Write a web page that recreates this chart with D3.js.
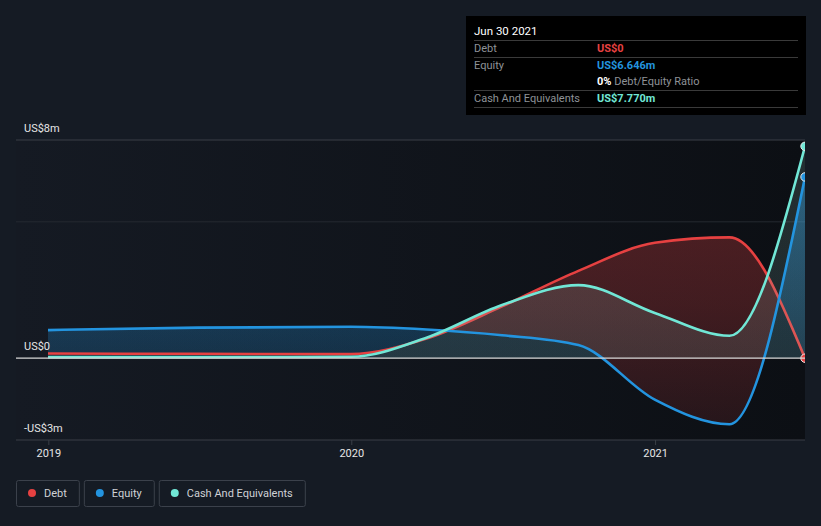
<!DOCTYPE html>
<html>
<head>
<meta charset="utf-8">
<script src="https://cdn.jsdelivr.net/npm/d3@7"></script>
<style>
  html, body { margin: 0; padding: 0; background: #151b24; }
  svg { display: block; }
  text { font-family: Roboto, "Noto Sans", sans-serif; }
</style>
</head>
<body>
<svg id="chart" width="821" height="526"></svg>
<script>
// ---- data (US$ millions) ----
const dates = ["2018-12-31","2019-06-30","2019-12-31","2020-03-31","2020-06-30","2020-09-30","2020-12-31","2021-03-31","2021-06-30"];
const debt = [0.17, 0.16, 0.15, 0.72, 1.90, 3.20, 4.23, 4.43, 0];
const equity = [1.03, 1.12, 1.15, 1.05, 0.84, 0.48, -1.52, -2.42, 6.646];
const cash = [0.04, 0.04, 0.05, 0.75, 1.95, 2.68, 1.66, 0.82, 7.77];
const yTickValues = [8, 0, -3];
const yTickLabels = ["US$8m", "US$0", "-US$3m"];
const yGridValues = [8, 5];
const xTickDates = ["2019-01-01", "2020-01-01", "2021-01-01"];
const xTickLabels = ["2019", "2020", "2021"];
const seriesNames = ["Debt", "Equity", "Cash And Equivalents"];
const tooltipDate = "Jun 30 2021";
const tooltipRows = [
  {label: "Debt", value: "US$0"},
  {label: "Equity", value: "US$6.646m"},
  {label: "", value: "0%", extra: " Debt/Equity Ratio"},
  {label: "Cash And Equivalents", value: "US$7.770m"}
];

const colors = {debt: "#e64141", equity: "#2394df", cash: "#71e7d6"};

const parse = d3.utcParse("%Y-%m-%d");
const rows = dates.map((d, i) => ({date: parse(d), debt: debt[i], equity: equity[i], cash: cash[i]}));

const svg = d3.select("#chart");
const plot = {left: 16, right: 805, top: 140, bottom: 440};

const x = d3.scaleUtc().domain([parse("2018-12-31"), parse("2021-06-30")]).range([48, 805]);
const y = d3.scaleLinear().domain([-3, 8]).range([plot.bottom, plot.top]);

const defs = svg.append("defs");
const bg = defs.append("linearGradient").attr("id", "plotbg").attr("x1", 0).attr("x2", 1).attr("y1", 0).attr("y2", 0);
bg.append("stop").attr("offset", 0).attr("stop-color", "#151a23");
bg.append("stop").attr("offset", 1).attr("stop-color", "#0c0f14");

function vgrad(id, color, stops) {
  const g = defs.append("linearGradient").attr("id", id).attr("gradientUnits", "userSpaceOnUse")
    .attr("x1", 0).attr("x2", 0).attr("y1", plot.top).attr("y2", plot.bottom);
  stops.forEach(s => g.append("stop").attr("offset", s[0]).attr("stop-color", color).attr("stop-opacity", s[1]));
}
vgrad("gRed", colors.debt, [[0, 0.34], [0.55, 0.24], [1, 0.10]]);
vgrad("gBlue", colors.equity, [[0, 0.38], [0.72, 0.14], [1, 0.05]]);
vgrad("gBlueArea", colors.equity, [[0, 0.2], [0.72, 0.09], [1, 0.02]]);
vgrad("gCash", "#9fd8d0", [[0, 0.16], [0.72, 0.13], [1, 0.08]]);

defs.append("clipPath").attr("id", "clipPlot").append("rect")
  .attr("x", plot.left).attr("y", 0).attr("width", plot.right - plot.left).attr("height", plot.bottom);
defs.append("clipPath").attr("id", "clipPos").append("rect")
  .attr("x", plot.left).attr("y", 0).attr("width", plot.right - plot.left).attr("height", y(0));

const curve = d3.curveMonotoneX;
defs.append("clipPath").attr("id", "belowDebt").append("path")
  .attr("d", d3.area().curve(curve).x(d => x(d.date)).y0(plot.bottom).y1(d => y(d.debt))(rows));
defs.append("clipPath").attr("id", "aboveDebt").append("path")
  .attr("d", d3.area().curve(curve).x(d => x(d.date)).y0(plot.top - 10).y1(d => y(d.debt))(rows));

svg.append("rect").attr("x", plot.left).attr("y", plot.top).attr("width", plot.right - plot.left)
  .attr("height", plot.bottom - plot.top).attr("fill", "url(#plotbg)");

svg.append("g").selectAll("line").data(yGridValues).join("line")
  .attr("x1", plot.left).attr("x2", plot.right)
  .attr("y1", d => y(d)).attr("y2", d => y(d))
  .attr("stroke", (d, i) => i === 0 ? "#3a3f47" : "#252a31").attr("stroke-width", 1);

const chartG = svg.append("g").attr("clip-path", "url(#clipPlot)");

chartG.append("g").attr("clip-path", "url(#belowDebt)").append("path")
  .attr("d", d3.area().curve(curve).x(d => x(d.date)).y0(plot.top - 10).y1(d => y(d.equity))(rows))
  .attr("fill", "url(#gRed)");
chartG.append("g").attr("clip-path", "url(#aboveDebt)").append("path")
  .attr("d", d3.area().curve(curve).x(d => x(d.date)).y0(plot.bottom).y1(d => y(d.equity))(rows))
  .attr("fill", "url(#gBlue)");
chartG.append("g").attr("clip-path", "url(#clipPos)").append("path")
  .attr("d", d3.area().curve(curve).x(d => x(d.date)).y0(y(0)).y1(d => y(d.equity))(rows))
  .attr("fill", "url(#gBlueArea)");

svg.append("line").attr("x1", plot.left).attr("x2", plot.right).attr("y1", y(0)).attr("y2", y(0))
  .attr("stroke", "#d8d8d8").attr("stroke-width", 1.2);

const line = key => d3.line().curve(curve).x(d => x(d.date)).y(d => y(d[key]));
chartG.append("path").attr("d", line("debt")(rows)).attr("fill", "none")
  .attr("stroke", colors.debt).attr("stroke-width", 2.6);
chartG.append("path")
  .attr("d", d3.area().curve(curve).x(d => x(d.date)).y0(y(0)).y1(d => y(d.cash))(rows))
  .attr("fill", "url(#gCash)");
chartG.append("path").attr("d", line("equity")(rows)).attr("fill", "none")
  .attr("stroke", colors.equity).attr("stroke-width", 2.6);
chartG.append("path").attr("d", line("cash")(rows)).attr("fill", "none")
  .attr("stroke", colors.cash).attr("stroke-width", 2.6);

const last = rows[rows.length - 1];
[["debt", colors.debt], ["equity", colors.equity], ["cash", colors.cash]].forEach(([k, c]) => {
  chartG.append("circle").attr("cx", x(last.date)).attr("cy", y(last[k])).attr("r", 4.2)
    .attr("fill", c).attr("stroke", "#e8e8e8").attr("stroke-width", 1);
});

svg.append("line").attr("x1", plot.left).attr("x2", plot.right).attr("y1", plot.bottom).attr("y2", plot.bottom)
  .attr("stroke", "#3a3f47").attr("stroke-width", 1);

svg.append("g").selectAll("text").data(yTickValues).join("text")
  .attr("x", 24).attr("y", d => y(d) - 8)
  .attr("fill", "#e6e6e6").attr("font-size", 11)
  .text((d, i) => yTickLabels[i]);

const xt = svg.append("g");
xTickDates.forEach((d, i) => {
  const px = x(parse(d));
  xt.append("line").attr("x1", px).attr("x2", px).attr("y1", plot.bottom).attr("y2", plot.bottom + 5)
    .attr("stroke", "#3a3f47");
  xt.append("text").attr("x", px).attr("y", 457).attr("text-anchor", "middle")
    .attr("fill", "#e6e6e6").attr("font-size", 11).text(xTickLabels[i]);
});

const legendColors = [colors.debt, colors.equity, colors.cash];
let lx = 16;
const lg = svg.append("g");
seriesNames.forEach((n, i) => {
  const g = lg.append("g");
  const t = g.append("text").attr("x", lx + 28).attr("y", 497).attr("fill", "#cfd2d6")
    .attr("font-size", 11).text(n);
  const w = t.node().getComputedTextLength() + 28 + 12;
  g.insert("rect", "text").attr("x", lx + 0.5).attr("y", 480.5).attr("width", w).attr("height", 26)
    .attr("rx", 2).attr("fill", "none").attr("stroke", "#3b414b");
  g.append("circle").attr("cx", lx + 16).attr("cy", 493).attr("r", 4).attr("fill", legendColors[i]);
  lx += w + 5;
});

const tt = svg.append("g");
tt.append("rect").attr("x", 466).attr("y", 16).attr("width", 340).attr("height", 99).attr("fill", "#000");
tt.append("text").attr("x", 474).attr("y", 35).attr("fill", "#ffffff").attr("font-size", 11.5).text(tooltipDate);
const sepY = [40.5, 57.5, 90.5, 107.5];
sepY.forEach(sy => tt.append("line").attr("x1", 474).attr("x2", 798).attr("y1", sy).attr("y2", sy)
  .attr("stroke", "#3a3a3a"));
const rowY = [52, 69, 85, 102];
const valColors = [colors.debt, colors.equity, "#ffffff", colors.cash];
tooltipRows.forEach((r, i) => {
  if (r.label) tt.append("text").attr("x", 474).attr("y", rowY[i]).attr("fill", "#8e9297")
    .attr("font-size", 11).text(r.label);
  const t = tt.append("text").attr("x", 597).attr("y", rowY[i]).attr("font-size", 11);
  t.append("tspan").attr("fill", valColors[i]).attr("font-weight", "bold").text(r.value);
  if (r.extra) t.append("tspan").attr("fill", "#8e9297").text(r.extra);
});
</script>
</body>
</html>
